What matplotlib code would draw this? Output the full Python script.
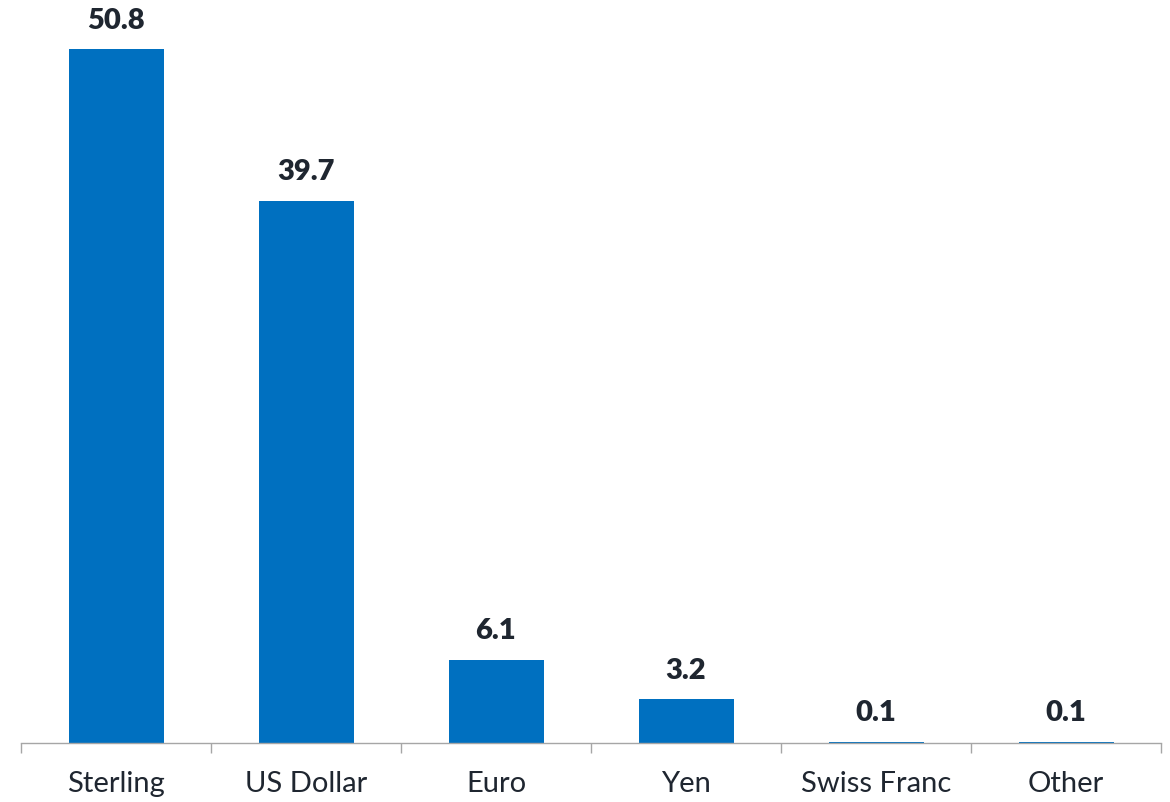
import matplotlib.pyplot as plt
import numpy as np

# Currency shares (%)
currencies = ['Sterling', 'US Dollar', 'Euro', 'Yen', 'Swiss Franc', 'Other']
shares = [50.8, 39.7, 6.1, 3.2, 0.1, 0.1]

BAR_COLOUR = '#0070C0'
TEXT_COLOUR = '#1F2630'
AXIS_COLOUR = '#A6A6A6'

plt.rcParams['font.family'] = ['Lato', 'DejaVu Sans']


def draw_chart(labels, values):
    fig = plt.figure(figsize=(11.7, 8.02), dpi=100)
    ax = fig.add_axes([21 / 1170, (802 - 743) / 802, 1140 / 1170, 743 / 802])

    x = np.arange(len(labels))
    ax.bar(x, values, width=0.5, color=BAR_COLOUR)

    # value labels above each bar
    for xi, v in zip(x, values):
        ax.annotate(f'{v:.1f}', (xi, v), xytext=(0, 11), textcoords='offset points',
                    ha='center', va='bottom', fontsize=21, fontweight='heavy',
                    color=TEXT_COLOUR)

    ax.set_xlim(-0.5, len(labels) - 0.5)
    ax.set_ylim(0, 743 / 13.66)

    # tick marks at category boundaries, labels at the centres
    ax.set_xticks(np.arange(len(labels) + 1) - 0.5)
    ax.set_xticklabels([])
    ax.set_xticks(x, minor=True)
    ax.set_xticklabels(labels, minor=True, fontsize=21, color=TEXT_COLOUR)
    ax.tick_params(axis='x', which='major', length=7, width=1, color=AXIS_COLOUR)
    ax.tick_params(axis='x', which='minor', length=0, pad=20)

    ax.set_yticks([])
    for side in ['top', 'right', 'left']:
        ax.spines[side].set_visible(False)
    ax.spines['bottom'].set_color(AXIS_COLOUR)
    ax.spines['bottom'].set_linewidth(1)

    fig.savefig('out.png', dpi=100)


if __name__ == '__main__':
    draw_chart(currencies, shares)
